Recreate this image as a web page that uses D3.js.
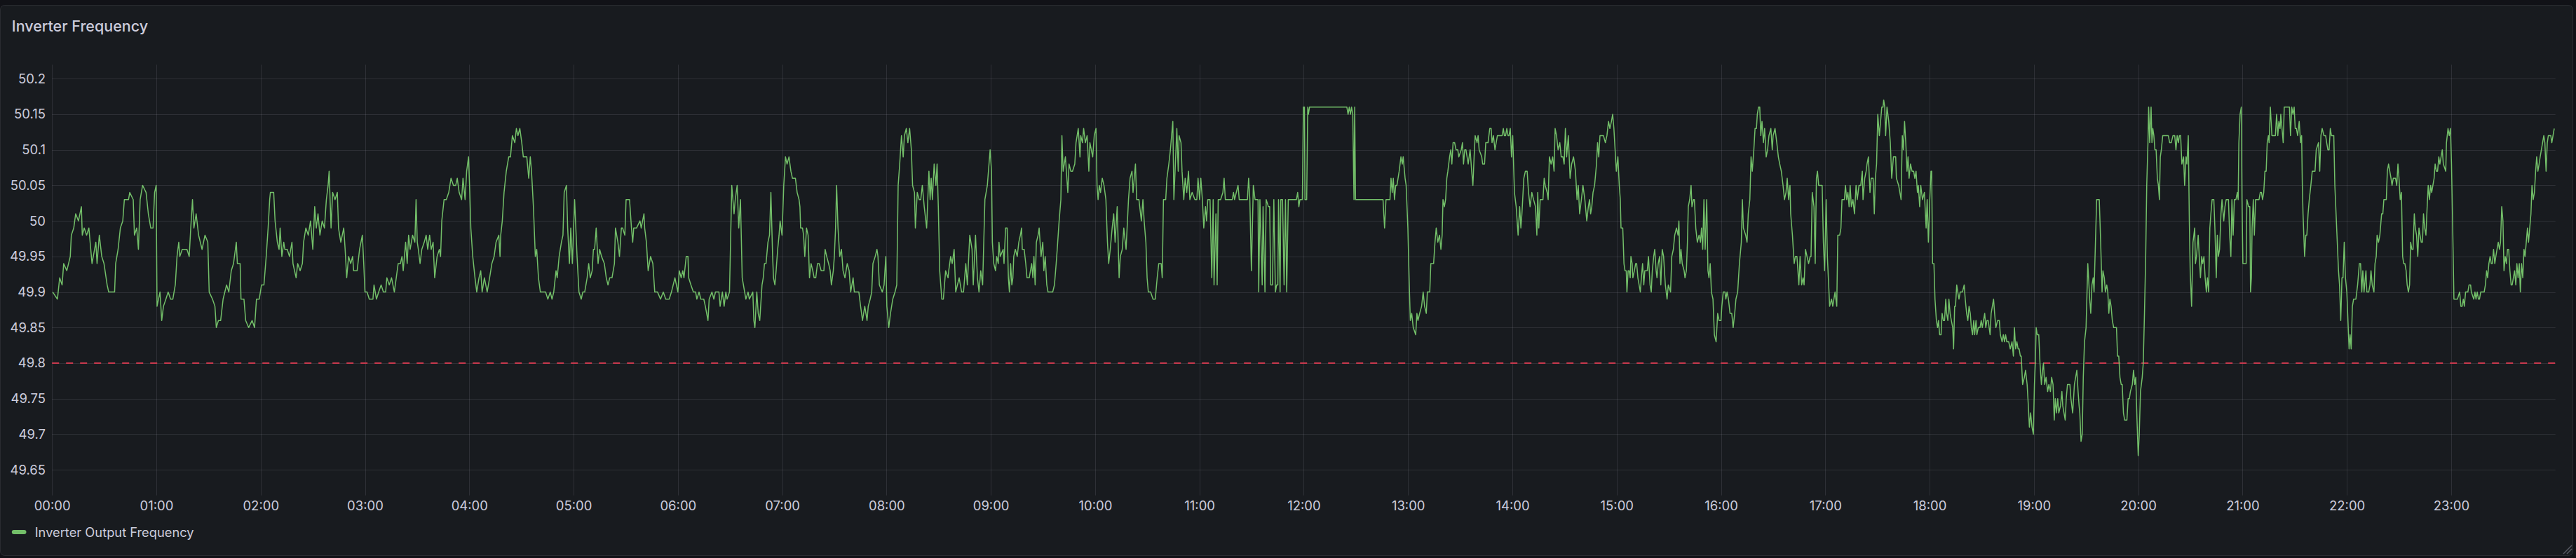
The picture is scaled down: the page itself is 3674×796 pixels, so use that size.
<!DOCTYPE html>
<html><head><meta charset="utf-8">
<script src="https://cdn.jsdelivr.net/npm/d3@7/dist/d3.min.js"></script>
<style>
html,body{margin:0;padding:0;background:#111217;overflow:hidden;}
svg{display:block;}
</style></head><body>
<svg id="chart" width="3674" height="796"></svg>
<script>
const panelTitle = "Inverter Frequency";
const seriesName = "Inverter Output Frequency";
const thresholdHz = 49.8;
const yTickValues = [49.65, 49.7, 49.75, 49.8, 49.85, 49.9, 49.95, 50, 50.05, 50.1, 50.15, 50.2];
const xTickHours = [0,1,2,3,4,5,6,7,8,9,10,11,12,13,14,15,16,17,18,19,20,21,22,23];
const xTickLabels = ["00:00","01:00","02:00","03:00","04:00","05:00","06:00","07:00","08:00","09:00","10:00","11:00","12:00","13:00","14:00","15:00","16:00","17:00","18:00","19:00","20:00","21:00","22:00","23:00"];
// [minute of day, Hz]
const samples = [
[0.4,49.90],[3.1,49.89],[4.4,49.92],[5.8,49.91],[6.7,49.94],[8.5,49.93],[10.5,49.95],[11.1,49.98],[12.5,49.99],[13.6,50.01],[15.2,50.00],[16.9,50.02],[17.4,49.98],[18.5,49.99],[19.9,49.98],[21.2,49.99],[23.0,49.94],[25.2,49.97],[25.9,49.94],[27.2,49.98],[28.6,49.95],[29.9,49.94],[31.7,49.91],[32.6,49.90],[34.6,49.90],[36.0,49.90],[36.6,49.94],[38.0,49.96],[39.3,49.99],[40.7,50.00],[41.6,50.03],[44.0,50.03],[44.7,50.04],[46.7,50.03],[47.4,49.98],[48.7,49.99],[49.7,49.96],[50.7,50.03],[52.1,50.05],[54.1,50.04],[55.4,50.01],[56.8,49.99],[58.1,49.99],[59.0,50.04],[59.9,50.05],
[60.4,49.88],[62.1,49.90],[63.1,49.86],[64.1,49.88],[65.5,49.89],[66.8,49.90],[68.2,49.89],[69.5,49.89],[70.9,49.91],[71.9,49.95],[72.9,49.97],[73.5,49.95],[74.9,49.96],[76.2,49.96],[77.6,49.96],[78.9,49.95],[79.8,49.99],[80.8,50.03],[81.6,49.99],[82.9,50.01],[84.3,49.98],[86.3,49.96],[88.0,49.98],[89.6,49.97],[90.4,49.90],[92.3,49.89],[93.7,49.88],[94.5,49.85],[95.7,49.86],[97.0,49.86],[98.4,49.89],[100.4,49.91],[101.7,49.90],[103.1,49.93],[104.4,49.94],[106.0,49.97],[106.6,49.94],[108.2,49.94],[108.7,49.89],[110.4,49.89],[111.4,49.86],[113.1,49.85],[115.1,49.86],[116.5,49.85],[117.6,49.89],[119.2,49.89],
[120.5,49.91],[121.9,49.91],[123.2,49.95],[124.3,49.99],[125.2,50.03],[125.6,50.04],[127.5,50.04],[128.3,50.00],[129.6,49.97],[130.6,49.96],[131.2,49.99],[132.2,49.95],[133.3,49.97],[133.9,49.96],[135.3,49.96],[136.6,49.95],[138.0,49.97],[138.6,49.94],[140.4,49.92],[141.3,49.94],[142.7,49.93],[144.0,49.94],[144.7,49.97],[146.0,49.99],[147.4,49.98],[148.7,50.00],[150.0,49.96],[151.1,50.02],[152.0,49.99],[153.0,50.01],[154.1,49.98],[155.4,50.00],[156.7,49.99],[157.8,50.03],[158.8,50.05],[159.4,50.07],[160.5,49.99],[161.4,50.04],[162.8,50.03],[164.1,50.04],[164.8,49.99],[166.1,49.97],[167.8,49.99],[168.6,49.96],[169.5,49.92],[170.6,49.95],[171.8,49.94],[172.9,49.95],[173.5,49.93],[175.5,49.93],[176.9,49.96],[178.5,49.98],[179.3,49.94],
[180.0,49.90],[181.2,49.90],[182.5,49.89],[184.6,49.89],[185.2,49.91],[186.6,49.89],[187.9,49.90],[189.3,49.91],[190.6,49.90],[191.9,49.90],[192.6,49.92],[194.0,49.91],[195.3,49.92],[196.9,49.90],[198.0,49.92],[199.1,49.94],[200.4,49.94],[201.3,49.95],[202.0,49.93],[203.4,49.97],[204.3,49.94],[205.1,49.98],[206.0,49.96],[207.4,49.98],[208.7,49.97],[209.4,50.03],[210.1,49.97],[210.7,49.96],[211.7,49.94],[212.7,49.96],[214.1,49.97],[215.2,49.98],[216.1,49.96],[217.2,49.98],[218.1,49.96],[219.2,49.97],[220.1,49.92],[221.5,49.95],[222.8,49.96],[223.5,49.95],[224.2,50.00],[225.5,50.03],[226.8,50.03],[228.2,50.04],[229.5,50.06],[230.9,50.05],[232.2,50.05],[233.1,50.06],[234.2,50.04],[235.6,50.03],[236.4,50.06],[237.6,50.03],[238.5,50.07],[239.6,50.09],
[240.3,50.04],[240.9,49.99],[242.0,49.95],[243.3,49.92],[244.3,49.90],[245.6,49.92],[246.6,49.93],[247.4,49.90],[248.7,49.92],[250.3,49.90],[251.7,49.92],[253.0,49.94],[254.3,49.95],[255.4,49.97],[257.0,49.98],[257.7,49.95],[258.1,49.98],[259.0,50.00],[260.0,50.04],[261.3,50.07],[262.7,50.09],[263.7,50.09],[264.8,50.12],[266.2,50.11],[267.1,50.13],[268.0,50.12],[269.1,50.13],[270.2,50.11],[271.1,50.09],[273.1,50.09],[274.2,50.06],[275.1,50.09],[275.8,50.07],[276.9,50.02],[278.0,49.95],[278.8,49.96],[279.8,49.92],[280.9,49.90],[281.9,49.90],[283.9,49.90],[285.2,49.89],[286.6,49.90],[287.6,49.89],[288.6,49.90],[289.9,49.93],[290.6,49.92],[291.7,49.95],[293.0,49.97],[293.9,49.98],[294.6,50.04],[295.9,50.05],[296.6,49.99],[297.6,49.94],[298.4,49.99],[299.3,49.94],
[300.6,50.03],[302.0,49.95],[303.1,49.90],[304.4,49.89],[305.3,49.90],[306.4,49.90],[307.8,49.92],[308.7,49.94],[309.6,49.92],[310.7,49.93],[311.4,49.96],[312.1,49.96],[313.0,49.99],[314.1,49.94],[315.0,49.96],[316.1,49.95],[317.7,49.94],[318.8,49.92],[319.8,49.91],[320.8,49.92],[322.1,49.92],[323.5,49.94],[324.1,49.99],[325.5,49.97],[326.4,49.95],[327.5,49.99],[328.2,49.99],[329.5,49.98],[330.2,50.03],[332.2,50.03],[333.3,49.99],[334.0,49.97],[334.6,49.99],[336.2,49.99],[338.2,50.00],[338.9,49.99],[340.5,50.01],[340.9,49.99],[341.9,49.97],[342.9,49.93],[344.3,49.95],[345.6,49.94],[346.7,49.90],[348.3,49.90],[350.0,49.89],[351.6,49.90],[353.0,49.89],[355.0,49.89],[356.3,49.90],[358.3,49.92],
[360.0,49.90],[360.8,49.93],[361.9,49.92],[362.8,49.93],[363.5,49.92],[364.8,49.95],[365.8,49.95],[366.2,49.92],[367.5,49.91],[368.9,49.90],[370.2,49.90],[370.9,49.89],[372.2,49.90],[373.2,49.89],[374.9,49.89],[375.8,49.88],[377.3,49.86],[378.0,49.89],[379.6,49.90],[380.7,49.89],[381.6,49.90],[383.6,49.90],[384.3,49.88],[385.6,49.90],[386.6,49.88],[387.6,49.90],[388.3,49.89],[389.7,49.90],[390.3,49.97],[391.0,50.05],[392.3,50.01],[393.0,50.03],[394.1,50.05],[395.0,49.99],[396.0,50.03],[397.0,49.92],[398.4,49.90],[399.1,49.89],[400.4,49.90],[401.1,49.89],[403.1,49.90],[403.7,49.86],[404.3,49.85],[405.4,49.90],[406.2,49.87],[407.1,49.86],[408.4,49.91],[409.1,49.92],[409.8,49.94],[410.7,49.94],[411.8,49.97],[412.7,49.98],[413.5,50.04],[414.5,49.95],[415.0,49.92],[415.8,49.91],[416.5,49.93],[417.4,49.96],[418.2,49.98],[418.8,50.00],[419.9,49.98],
[420.9,50.05],[421.9,50.09],[422.8,50.08],[423.9,50.09],[425.0,50.07],[425.9,50.06],[427.6,50.06],[428.6,50.04],[429.7,50.03],[430.2,50.02],[430.6,49.99],[431.7,49.99],[432.3,49.98],[433.0,49.95],[434.0,49.99],[434.9,49.98],[435.7,49.92],[436.6,49.94],[437.6,49.93],[438.4,49.92],[439.3,49.92],[440.3,49.94],[441.3,49.94],[442.4,49.93],[444.0,49.93],[444.7,49.96],[445.6,49.95],[446.7,49.94],[447.6,49.93],[448.3,49.91],[449.4,49.93],[450.0,49.95],[450.7,49.99],[451.3,50.05],[452.1,49.99],[453.1,49.95],[454.1,49.96],[455.0,49.93],[456.1,49.92],[457.4,49.94],[458.5,49.93],[459.4,49.90],[460.8,49.92],[461.5,49.90],[463.5,49.90],[464.1,49.90],[465.1,49.88],[466.2,49.86],[467.5,49.88],[468.8,49.86],[469.5,49.88],[470.6,49.89],[471.5,49.90],[472.2,49.94],[473.5,49.95],[474.5,49.96],[475.1,49.95],[475.9,49.91],[477.6,49.90],[478.6,49.91],[479.6,49.95],
[480.2,49.88],[481.3,49.85],[482.3,49.87],[483.6,49.89],[484.9,49.90],[485.9,49.91],[486.7,50.05],[487.6,50.08],[488.6,50.12],[489.6,50.09],[490.3,50.12],[491.4,50.13],[492.3,50.11],[493.3,50.13],[494.3,50.10],[495.0,50.05],[496.1,50.04],[496.6,49.99],[497.7,50.04],[498.8,50.03],[499.7,50.03],[500.6,50.05],[501.7,50.02],[503.1,49.99],[504.4,50.07],[505.1,50.03],[505.7,50.06],[506.4,50.03],[507.4,50.08],[508.4,50.05],[509.1,50.08],[509.8,50.02],[510.6,49.93],[511.8,49.89],[512.7,49.89],[514.0,49.93],[515.4,49.92],[515.8,49.93],[516.9,49.95],[517.8,49.94],[518.9,49.96],[519.8,49.90],[520.8,49.91],[521.8,49.92],[523.2,49.90],[524.3,49.90],[525.6,49.94],[526.5,49.91],[527.9,49.98],[529.2,49.96],[529.9,49.91],[531.2,49.98],[532.3,49.92],[533.2,49.90],[534.2,49.93],[535.3,49.91],[536.6,50.03],[538.0,50.05],[539.6,50.10],
[540.4,50.07],[540.9,49.97],[541.7,49.94],[542.7,49.93],[543.4,49.95],[544.3,49.94],[544.7,49.97],[545.4,49.95],[547.1,49.96],[547.6,49.94],[548.5,49.99],[549.4,49.99],[550.1,49.92],[550.7,49.90],[551.4,49.94],[552.1,49.91],[552.7,49.92],[553.2,49.95],[554.1,49.96],[555.2,49.95],[556.1,49.97],[557.0,49.98],[557.7,49.99],[558.1,49.96],[559.2,49.96],[560.1,49.94],[560.8,49.92],[562.1,49.92],[563.5,49.94],[564.2,49.92],[564.8,49.95],[565.5,49.91],[566.2,49.97],[567.2,49.98],[567.8,49.99],[568.9,49.95],[569.9,49.97],[570.5,49.93],[571.3,49.95],[572.2,49.91],[572.9,49.90],[574.2,49.90],[575.6,49.90],[576.6,49.91],[577.6,49.94],[578.2,49.96],[579.3,50.00],[580.3,50.03],[580.9,50.12],[581.6,50.07],[582.9,50.09],[584.3,50.04],[585.0,50.08],[586.0,50.07],[587.0,50.07],[588.3,50.08],[589.0,50.11],[590.3,50.13],[591.3,50.09],[591.7,50.12],[592.7,50.11],[593.4,50.13],[594.4,50.11],[595.4,50.12],[596.4,50.07],[597.0,50.11],[598.6,50.09],[599.5,50.12],
[600.5,50.13],[601.1,50.05],[601.7,50.03],[602.4,50.05],[603.1,50.04],[604.1,50.06],[605.1,50.05],[606.2,50.03],[607.1,49.97],[607.8,49.94],[608.7,49.96],[609.8,49.99],[610.7,50.01],[611.5,49.97],[612.7,50.02],[613.8,49.92],[614.5,49.95],[615.6,49.96],[616.5,49.99],[617.8,49.96],[619.2,50.03],[620.1,50.06],[621.2,50.07],[621.8,50.04],[623.2,50.08],[623.9,50.03],[625.2,50.03],[626.6,50.00],[627.5,50.03],[628.2,50.00],[629.2,49.97],[629.9,49.92],[630.6,49.90],[631.9,49.90],[633.3,49.89],[634.6,49.89],[635.7,49.92],[636.6,49.94],[638.0,49.94],[638.6,49.92],[639.3,50.03],[640.6,50.03],[641.3,50.06],[642.4,50.08],[643.3,50.10],[644.7,50.14],[645.3,50.03],[646.0,50.07],[647.0,50.13],[647.8,50.07],[648.3,50.12],[649.4,50.11],[650.0,50.07],[651.0,50.03],[651.8,50.06],[652.7,50.04],[653.7,50.07],[654.5,50.03],[655.8,50.04],[657.4,50.03],[658.5,50.03],[659.2,50.06],
[660.1,50.03],[660.8,50.06],[661.7,50.03],[662.5,49.99],[663.5,50.02],[664.1,50.00],[664.8,50.03],[666.1,50.03],[667.1,49.92],[667.9,50.03],[668.4,49.91],[669.5,50.01],[670.2,49.91],[670.8,50.03],[672.2,50.03],[673.5,50.04],[674.2,50.06],[674.9,50.03],[678.9,50.03],[679.6,50.04],[680.2,50.03],[682.2,50.05],[682.9,50.03],[687.6,50.03],[688.3,50.06],[689.0,50.03],[689.9,49.93],[691.0,50.05],[692.0,50.03],[693.7,50.03],[694.1,49.90],[694.8,50.03],[696.1,49.91],[696.6,50.02],[697.7,49.90],[698.4,50.03],[699.7,50.02],[700.4,50.02],[701.0,49.91],[702.0,49.91],[702.8,50.03],[703.7,49.90],[704.4,49.91],[705.1,49.91],[705.5,50.03],[706.4,49.90],[706.8,50.03],[707.8,50.03],[708.7,49.91],[709.5,50.03],[710.2,49.90],[711.1,50.03],[715.8,50.03],[716.5,50.04],[717.2,50.02],[717.8,50.03],[719.2,50.03],[719.8,50.16],
[720.4,50.16],[720.7,50.03],[721.7,50.03],[722.3,50.16],[722.7,50.15],[723.3,50.16],[744.8,50.16],[745.5,50.15],[746.2,50.16],[746.9,50.15],[747.5,50.16],[748.2,50.15],[748.9,50.03],[749.3,50.16],[749.8,50.03],[765.6,50.03],[766.5,49.99],[767.3,50.03],[769.6,50.03],[770.2,50.06],[770.9,50.04],[771.5,50.06],[772.2,50.03],[772.9,50.05],[773.6,50.05],[774.9,50.07],[775.9,50.09],[776.7,50.08],[777.2,50.09],[778.3,50.06],[778.9,50.05],[779.9,49.99],
[780.6,49.92],[781.3,49.86],[782.1,49.87],[783.0,49.85],[784.4,49.84],[785.1,49.87],[785.7,49.86],[786.7,49.87],[787.8,49.88],[788.7,49.90],[789.5,49.88],[790.5,49.87],[791.1,49.90],[792.5,49.90],[793.1,49.94],[794.7,49.94],[795.5,49.97],[796.2,49.99],[797.1,49.97],[798.1,49.98],[798.9,49.96],[799.6,49.98],[800.1,50.03],[800.9,50.02],[801.6,50.03],[802.3,50.06],[802.9,50.07],[803.9,50.09],[804.6,50.10],[805.2,50.08],[805.9,50.11],[806.8,50.11],[807.6,50.10],[808.6,50.10],[809.2,50.09],[810.6,50.10],[811.3,50.11],[811.9,50.08],[812.6,50.10],[813.3,50.10],[814.6,50.08],[815.7,50.10],[816.6,50.07],[817.3,50.05],[818.0,50.09],[818.6,50.12],[819.7,50.11],[820.3,50.12],[820.9,50.10],[822.4,50.09],[822.9,50.08],[824.0,50.08],[824.7,50.11],[826.0,50.11],[827.0,50.13],[827.8,50.13],[828.3,50.11],[829.1,50.12],[830.0,50.10],[830.7,50.11],[831.4,50.12],[834.1,50.12],[834.8,50.13],[835.4,50.12],[836.1,50.12],[836.8,50.13],[837.5,50.12],[838.1,50.12],[838.8,50.13],[839.5,50.09],
[840.2,50.12],[841.2,50.04],[842.2,50.02],[843.3,49.98],[844.2,50.02],[844.9,49.99],[845.5,50.01],[846.6,50.06],[847.5,50.07],[848.5,50.07],[849.3,50.04],[850.2,50.02],[851.2,50.04],[852.2,50.03],[853.3,50.02],[854.1,49.98],[854.6,50.04],[855.2,49.99],[856.0,50.03],[857.6,50.03],[858.3,50.06],[858.9,50.05],[860.0,50.04],[860.6,50.03],[861.3,50.09],[862.3,50.08],[863.2,50.09],[864.0,50.07],[864.6,50.13],[865.4,50.12],[866.3,50.10],[867.3,50.11],[868.1,50.09],[869.1,50.09],[869.8,50.08],[870.5,50.13],[871.2,50.09],[872.2,50.12],[873.2,50.06],[874.1,50.08],[875.2,50.09],[876.3,50.07],[877.2,50.03],[877.9,50.05],[878.7,50.01],[879.7,50.03],[880.6,50.05],[881.7,50.03],[882.8,50.00],[883.7,50.02],[884.4,50.03],[885.0,50.01],[885.7,50.02],[886.4,50.04],[887.3,50.05],[888.4,50.08],[889.0,50.11],[889.7,50.09],[890.4,50.12],[892.4,50.12],[893.5,50.11],[894.4,50.12],[895.3,50.14],[896.1,50.13],[897.0,50.14],[897.7,50.15],[898.4,50.13],[899.1,50.10],
[899.8,50.07],[900.7,50.09],[901.5,50.05],[902.1,50.03],[902.5,49.99],[903.5,49.99],[904.2,49.94],[904.8,49.93],[905.5,49.93],[905.9,49.90],[906.6,49.93],[907.2,49.93],[907.8,49.92],[908.2,49.95],[908.9,49.94],[909.3,49.92],[910.2,49.93],[910.9,49.94],[911.5,49.94],[912.2,49.92],[912.9,49.91],[913.6,49.90],[914.2,49.92],[914.9,49.94],[915.6,49.91],[916.2,49.93],[917.6,49.93],[918.3,49.95],[919.2,49.91],[919.9,49.90],[920.5,49.93],[921.3,49.95],[921.9,49.96],[922.7,49.93],[923.2,49.92],[923.9,49.94],[924.7,49.95],[925.4,49.91],[926.2,49.96],[927.0,49.95],[928.0,49.91],[929.0,49.89],[929.7,49.91],[931.0,49.90],[931.7,49.95],[932.6,49.96],[933.4,49.98],[934.4,49.99],[935.3,49.98],[935.8,50.00],[936.4,49.94],[937.0,49.96],[937.7,49.94],[938.8,49.93],[939.3,49.92],[940.1,49.93],[940.7,49.97],[941.2,50.02],[942.0,50.03],[942.8,50.05],[943.3,50.02],[944.2,50.03],[944.7,50.03],[945.5,49.99],[946.4,49.97],[947.4,49.98],[948.2,49.97],[948.8,49.99],[949.5,49.96],[950.2,50.03],[950.9,49.96],[951.8,50.03],[952.5,49.93],[953.1,49.92],[953.8,49.94],[954.5,49.90],[955.4,49.89],[956.2,49.84],[957.2,49.83],[958.1,49.87],[958.9,49.86],
[960.0,49.86],[960.5,49.88],[961.3,49.90],[962.3,49.90],[962.8,49.89],[963.5,49.90],[964.3,49.89],[965.2,49.87],[966.2,49.87],[967.0,49.85],[967.9,49.87],[968.6,49.89],[969.6,49.90],[970.6,49.94],[971.7,49.97],[972.3,50.03],[972.9,49.99],[974.2,49.98],[975.0,49.97],[975.7,50.01],[976.6,50.03],[977.3,50.09],[978.0,50.07],[978.9,50.10],[979.6,50.13],[980.4,50.13],[980.9,50.15],[981.6,50.16],[982.3,50.16],[982.9,50.12],[983.6,50.14],[984.4,50.11],[985.1,50.13],[986.0,50.09],[986.8,50.10],[987.6,50.12],[988.7,50.13],[989.5,50.10],[990.0,50.12],[991.1,50.13],[992.1,50.11],[993.0,50.09],[993.8,50.08],[994.7,50.07],[995.7,50.05],[996.5,50.03],[997.4,50.04],[998.1,50.06],[998.9,50.03],[999.7,50.05],[1000.1,50.01],[1001.1,49.98],[1002.1,49.94],[1002.8,49.95],[1003.7,49.95],[1004.8,49.91],[1005.5,49.95],[1006.4,49.91],[1007.2,49.92],[1007.8,49.91],[1008.6,49.96],[1009.5,49.95],[1010.4,49.94],[1011.3,49.95],[1011.8,49.95],[1012.5,50.04],[1013.5,50.02],[1014.2,49.94],[1014.9,50.06],[1015.5,50.07],[1016.2,50.05],[1016.9,50.05],[1018.2,50.05],[1018.9,49.97],[1019.6,49.93],
[1020.5,50.03],[1021.2,49.95],[1022.5,49.88],[1023.6,49.89],[1024.3,49.88],[1025.6,49.90],[1026.6,49.88],[1027.2,49.98],[1028.3,49.98],[1029.0,49.99],[1029.6,50.03],[1031.0,50.03],[1031.6,50.05],[1032.3,50.03],[1033.0,50.04],[1033.7,50.02],[1034.3,50.05],[1035.0,50.02],[1035.9,50.03],[1036.8,50.01],[1037.7,50.05],[1038.4,50.03],[1039.4,50.05],[1040.4,50.05],[1041.3,50.07],[1041.7,50.03],[1042.7,50.06],[1043.5,50.07],[1044.0,50.08],[1044.8,50.09],[1045.7,50.04],[1046.4,50.06],[1047.5,50.06],[1048.2,50.01],[1048.8,50.06],[1049.5,50.08],[1050.2,50.15],[1051.1,50.12],[1051.8,50.14],[1052.5,50.16],[1053.2,50.16],[1053.6,50.17],[1054.2,50.16],[1054.7,50.12],[1055.5,50.16],[1056.5,50.14],[1057.4,50.11],[1058.2,50.06],[1059.2,50.09],[1060.5,50.09],[1060.9,50.06],[1062.2,50.05],[1063.6,50.03],[1064.3,50.12],[1064.9,50.10],[1065.6,50.14],[1066.3,50.11],[1067.0,50.07],[1067.6,50.09],[1068.2,50.06],[1069.0,50.08],[1069.9,50.07],[1070.8,50.07],[1071.5,50.06],[1072.2,50.07],[1073.0,50.04],[1073.5,50.05],[1074.3,50.02],[1074.9,50.05],[1075.9,50.03],[1077.0,50.04],[1078.0,49.99],[1078.6,50.03],[1079.3,49.97],
[1080.1,50.03],[1080.8,50.07],[1081.2,50.07],[1081.7,49.94],[1082.5,49.94],[1083.1,49.89],[1083.9,49.86],[1084.6,49.85],[1085.1,49.86],[1085.8,49.84],[1086.6,49.84],[1087.2,49.87],[1087.9,49.86],[1088.6,49.86],[1089.3,49.89],[1089.8,49.87],[1090.5,49.86],[1091.1,49.89],[1091.8,49.87],[1092.5,49.86],[1093.3,49.85],[1093.8,49.82],[1094.4,49.88],[1094.9,49.88],[1095.6,49.91],[1096.2,49.90],[1096.9,49.89],[1097.6,49.90],[1098.9,49.90],[1099.9,49.91],[1100.5,49.89],[1101.3,49.87],[1102.0,49.86],[1102.7,49.88],[1103.4,49.87],[1104.0,49.85],[1104.7,49.84],[1105.4,49.86],[1105.9,49.84],[1106.7,49.86],[1107.2,49.84],[1108.0,49.85],[1109.0,49.85],[1109.7,49.86],[1110.3,49.85],[1111.0,49.86],[1111.7,49.87],[1112.3,49.85],[1113.0,49.86],[1113.7,49.86],[1114.8,49.84],[1115.4,49.87],[1116.1,49.88],[1116.8,49.89],[1117.4,49.87],[1118.1,49.85],[1119.1,49.86],[1120.1,49.86],[1120.7,49.84],[1121.7,49.83],[1122.4,49.84],[1123.1,49.83],[1123.7,49.84],[1124.4,49.83],[1125.5,49.83],[1126.4,49.82],[1127.4,49.83],[1128.2,49.81],[1128.8,49.85],[1129.5,49.82],[1130.2,49.83],[1130.9,49.82],[1131.5,49.82],[1132.2,49.81],[1132.7,49.81],[1133.5,49.77],[1134.5,49.78],[1135.2,49.79],[1136.1,49.77],[1136.8,49.74],[1137.4,49.71],[1138.1,49.73],[1138.9,49.71],[1139.7,49.70],
[1140.3,49.77],[1140.8,49.80],[1141.3,49.85],[1141.9,49.84],[1142.8,49.84],[1143.5,49.80],[1144.3,49.77],[1145.0,49.79],[1145.5,49.80],[1146.2,49.77],[1147.0,49.78],[1147.9,49.76],[1148.6,49.77],[1149.5,49.76],[1150.2,49.78],[1151.0,49.77],[1151.7,49.72],[1152.3,49.75],[1153.0,49.73],[1153.7,49.75],[1154.3,49.73],[1155.3,49.74],[1156.1,49.76],[1156.6,49.74],[1157.3,49.73],[1158.0,49.72],[1158.6,49.75],[1159.3,49.77],[1160.7,49.77],[1161.3,49.75],[1162.3,49.73],[1163.3,49.77],[1164.0,49.78],[1164.7,49.79],[1165.4,49.76],[1166.0,49.74],[1166.4,49.73],[1167.1,49.69],[1167.8,49.70],[1168.4,49.78],[1169.1,49.83],[1170.0,49.85],[1171.0,49.94],[1172.1,49.89],[1172.7,49.87],[1173.4,49.91],[1174.1,49.92],[1174.6,49.90],[1175.4,49.97],[1176.1,50.03],[1177.0,50.03],[1177.6,50.03],[1178.4,49.97],[1179.2,49.90],[1179.7,49.93],[1180.5,49.92],[1181.1,49.90],[1181.9,49.91],[1182.5,49.90],[1183.1,49.87],[1183.7,49.89],[1184.4,49.88],[1185.1,49.86],[1185.9,49.85],[1186.8,49.85],[1187.5,49.85],[1188.1,49.81],[1188.8,49.81],[1189.5,49.78],[1190.2,49.77],[1190.8,49.77],[1191.5,49.73],[1192.2,49.72],[1192.9,49.72],[1193.5,49.72],[1194.2,49.75],[1194.9,49.75],[1195.5,49.76],[1196.6,49.77],[1197.3,49.79],[1198.0,49.77],[1198.6,49.78],[1199.3,49.72],
[1200.0,49.67],[1200.6,49.70],[1201.3,49.76],[1202.3,49.78],[1202.9,49.80],[1203.6,49.87],[1204.3,49.95],[1204.9,50.05],[1205.6,50.11],[1206.0,50.16],[1206.6,50.11],[1207.4,50.16],[1207.9,50.11],[1208.4,50.13],[1209.0,50.12],[1209.6,50.10],[1210.3,50.10],[1211.0,50.06],[1211.6,50.05],[1212.2,50.03],[1212.7,50.09],[1213.3,50.10],[1214.1,50.12],[1215.0,50.12],[1216.3,50.12],[1217.3,50.12],[1218.1,50.11],[1219.0,50.11],[1220.0,50.12],[1221.0,50.12],[1221.7,50.10],[1222.4,50.12],[1223.1,50.11],[1223.7,50.12],[1224.4,50.12],[1225.1,50.08],[1226.1,50.09],[1226.7,50.05],[1227.5,50.09],[1228.0,50.08],[1228.8,50.12],[1229.4,50.00],[1229.9,49.93],[1230.7,49.88],[1231.5,49.97],[1232.5,49.99],[1232.9,49.94],[1233.5,49.95],[1234.5,49.98],[1235.1,49.95],[1235.8,49.92],[1236.5,49.95],[1237.1,49.94],[1237.8,49.95],[1238.5,49.92],[1239.2,49.90],[1239.8,49.92],[1240.5,49.90],[1241.2,49.99],[1241.8,50.01],[1242.5,50.03],[1243.5,50.03],[1244.1,49.99],[1244.9,49.92],[1245.5,49.98],[1246.1,49.95],[1246.8,49.96],[1247.6,50.01],[1248.2,50.03],[1249.2,50.00],[1249.9,50.02],[1250.6,50.03],[1251.9,50.03],[1252.6,49.98],[1253.3,49.95],[1253.9,50.03],[1254.6,49.98],[1255.3,50.03],[1256.2,50.03],[1257.0,50.04],[1257.5,50.03],[1257.9,50.11],[1258.6,50.15],[1259.3,50.16],[1259.7,50.03],
[1260.2,49.94],[1262.1,49.94],[1262.5,50.03],[1263.5,50.02],[1264.2,50.02],[1264.6,49.90],[1265.1,49.92],[1265.5,49.99],[1266.2,50.03],[1266.8,49.98],[1267.5,50.03],[1268.9,50.03],[1269.5,50.03],[1270.2,50.04],[1270.9,50.04],[1271.5,50.03],[1272.2,50.04],[1272.9,50.07],[1273.6,50.07],[1274.2,50.11],[1274.9,50.12],[1275.3,50.11],[1276.0,50.16],[1276.9,50.12],[1277.6,50.12],[1278.3,50.12],[1278.9,50.12],[1279.6,50.15],[1280.3,50.12],[1280.9,50.14],[1281.6,50.13],[1282.0,50.15],[1282.7,50.13],[1283.4,50.11],[1284.0,50.16],[1285.0,50.16],[1286.3,50.16],[1287.0,50.16],[1287.6,50.12],[1288.3,50.16],[1289.0,50.15],[1289.7,50.16],[1290.3,50.13],[1291.0,50.13],[1291.7,50.12],[1292.6,50.14],[1293.4,50.11],[1294.0,50.12],[1294.4,50.05],[1294.8,50.01],[1295.7,49.95],[1296.4,49.98],[1297.0,49.98],[1297.7,50.01],[1298.4,50.03],[1299.3,50.05],[1300.1,50.07],[1301.1,50.07],[1301.7,50.07],[1302.4,50.10],[1303.7,50.11],[1304.4,50.07],[1305.1,50.12],[1305.8,50.13],[1306.8,50.12],[1307.8,50.12],[1308.4,50.11],[1309.1,50.10],[1309.8,50.10],[1310.5,50.13],[1311.1,50.12],[1311.8,50.12],[1312.5,50.12],[1313.1,50.05],[1313.8,50.01],[1314.5,49.97],[1315.2,49.93],[1315.8,49.91],[1316.5,49.86],[1317.2,49.92],[1317.8,49.92],[1318.5,49.97],[1319.2,49.92],
[1320.0,49.90],[1320.8,49.85],[1321.3,49.82],[1321.9,49.84],[1322.5,49.82],[1323.2,49.88],[1323.9,49.89],[1325.2,49.89],[1326.2,49.91],[1327.2,49.94],[1327.9,49.94],[1328.6,49.90],[1329.2,49.93],[1329.9,49.90],[1331.0,49.93],[1331.5,49.90],[1332.6,49.90],[1333.3,49.91],[1333.9,49.93],[1334.6,49.91],[1335.6,49.90],[1336.2,49.94],[1336.9,49.95],[1337.4,49.98],[1338.2,49.97],[1339.0,49.98],[1340.0,50.01],[1340.7,50.01],[1341.3,50.03],[1342.0,50.03],[1342.7,50.03],[1343.3,50.07],[1344.0,50.08],[1344.7,50.07],[1345.4,50.06],[1346.0,50.05],[1346.7,50.06],[1347.4,50.06],[1348.0,50.06],[1348.7,50.05],[1349.4,50.08],[1350.0,50.06],[1350.7,50.03],[1351.4,50.04],[1352.1,49.95],[1352.7,49.94],[1353.4,49.94],[1354.1,49.93],[1354.7,49.91],[1355.4,49.90],[1356.1,49.91],[1356.7,49.97],[1357.4,49.96],[1358.1,49.96],[1358.8,50.01],[1359.4,49.99],[1360.1,49.98],[1360.8,49.95],[1361.5,49.99],[1362.1,49.98],[1362.8,49.97],[1363.5,49.97],[1364.1,50.01],[1364.8,49.99],[1365.5,49.98],[1366.2,50.02],[1366.8,50.05],[1367.5,50.03],[1368.2,50.05],[1368.8,50.04],[1369.5,50.05],[1370.2,50.06],[1370.8,50.08],[1371.5,50.07],[1372.2,50.07],[1372.9,50.09],[1373.5,50.08],[1374.2,50.09],[1374.9,50.10],[1375.5,50.08],[1376.9,50.07],[1377.3,50.11],[1378.2,50.13],[1378.9,50.12],[1379.6,50.13],
[1380.2,50.08],[1380.9,49.99],[1381.6,49.89],[1382.3,49.89],[1383.6,49.89],[1384.9,49.90],[1385.6,49.88],[1386.3,49.88],[1387.0,49.89],[1387.6,49.88],[1388.3,49.90],[1389.6,49.90],[1390.3,49.91],[1391.2,49.91],[1391.6,49.90],[1393.0,49.89],[1393.7,49.90],[1394.3,49.89],[1395.0,49.90],[1395.7,49.89],[1396.3,49.89],[1397.0,49.90],[1397.7,49.90],[1399.0,49.90],[1399.7,49.91],[1400.4,49.93],[1401.0,49.92],[1401.7,49.94],[1402.4,49.95],[1403.1,49.94],[1403.7,49.94],[1404.4,49.96],[1405.1,49.94],[1405.7,49.95],[1406.4,49.96],[1407.1,49.97],[1407.8,49.96],[1408.4,49.97],[1409.1,50.02],[1409.8,50.00],[1410.4,49.93],[1411.1,49.95],[1411.8,49.94],[1412.4,49.96],[1413.1,49.96],[1413.8,49.93],[1414.5,49.91],[1415.1,49.91],[1415.8,49.92],[1416.5,49.93],[1417.2,49.91],[1417.8,49.94],[1418.5,49.92],[1419.2,49.94],[1419.8,49.90],[1420.5,49.94],[1421.2,49.92],[1421.9,49.96],[1422.5,49.95],[1423.2,49.97],[1423.9,49.99],[1424.5,49.97],[1425.2,49.99],[1425.9,50.01],[1426.5,50.05],[1427.2,50.03],[1427.9,50.04],[1428.6,50.07],[1429.2,50.09],[1429.9,50.07],[1430.6,50.08],[1431.2,50.09],[1431.9,50.10],[1432.6,50.11],[1433.3,50.12],[1433.9,50.11],[1434.6,50.07],[1435.3,50.11],[1435.9,50.12],[1436.6,50.12],[1437.3,50.12],[1437.9,50.11],[1438.6,50.12],[1439.3,50.13]
];

const W = 3674, H = 796;
const plot = {left: 74.2, right: 3644.7, top: 92.3, bottom: 706.7};
const textColor = "rgb(204,204,220)";
const gridColor = "rgba(204,204,220,0.12)";
const lineColor = "#73BF69";
const font = "Inter, 'Noto Sans', sans-serif";

const svg = d3.select("#chart");

// page + panel
svg.append("rect").attr("x",0).attr("y",0).attr("width",W).attr("height",H).attr("fill","#111217");
svg.append("rect").attr("x",0.5).attr("y",7.5).attr("width",3669).attr("height",785)
  .attr("rx",6).attr("fill","#181b1f").attr("stroke","rgba(204,204,220,0.12)").attr("stroke-width",1);

svg.append("text").attr("x",16.8).attr("y",45).attr("fill",textColor)
  .style("font-family",font).style("font-size","21.5px").style("font-weight",500)
  .text(panelTitle);

const x = d3.scaleLinear().domain([0,1440]).range([plot.left, plot.right]);
const y = d3.scaleLinear().domain([49.614, 50.2197]).range([plot.bottom, plot.top]);

// horizontal grid
svg.append("g").selectAll("line").data(yTickValues).join("line")
  .attr("x1",plot.left).attr("x2",plot.right)
  .attr("y1",d=>Math.round(y(d))+0.5).attr("y2",d=>Math.round(y(d))+0.5)
  .attr("stroke",gridColor).attr("stroke-width",1);
// vertical grid
svg.append("g").selectAll("line").data(xTickHours).join("line")
  .attr("x1",d=>Math.round(x(d*60))+0.5).attr("x2",d=>Math.round(x(d*60))+0.5)
  .attr("y1",plot.top).attr("y2",plot.bottom)
  .attr("stroke",gridColor).attr("stroke-width",1);

// y labels
const yAxis = d3.axisLeft(y).tickValues(yTickValues).tickSize(0).tickPadding(0)
  .tickFormat(d=>String(+d.toFixed(2)));
const gy = svg.append("g").attr("transform",`translate(65,0)`).call(yAxis);
gy.select(".domain").remove();
gy.selectAll("text").attr("fill",textColor).style("font-family",font).style("font-size","18.5px");

// x labels
const xAxis = d3.axisBottom(x).tickValues(xTickHours.map(h=>h*60)).tickSize(0).tickPadding(0)
  .tickFormat((d,i)=>xTickLabels[i]);
const gx = svg.append("g").attr("transform",`translate(0,715)`).call(xAxis);
gx.select(".domain").remove();
gx.selectAll("text").attr("fill",textColor).attr("dy","0.71em").style("font-family",font).style("font-size","18.5px");

// threshold
svg.append("line").attr("x1",plot.left).attr("x2",plot.right)
  .attr("y1",y(thresholdHz)).attr("y2",y(thresholdHz))
  .attr("stroke","#c8394d").attr("stroke-width",2).attr("stroke-dasharray","10,10");

// series
const line = d3.line().x(d=>x(d[0])).y(d=>y(d[1]));
svg.append("path").datum(samples).attr("d",line).attr("fill","none")
  .attr("stroke",lineColor).attr("stroke-width",1.5).attr("stroke-linejoin","round");

// legend
svg.append("rect").attr("x",16.8).attr("y",756).attr("width",20.7).attr("height",6).attr("rx",3).attr("fill",lineColor);
svg.append("text").attr("x",49.7).attr("y",765.5).attr("fill",textColor)
  .style("font-family",font).style("font-size","18.3px").text(seriesName);

// resize handle
svg.append("path").attr("d","M3656,790 L3668,778 M3661,790 L3668,783")
  .attr("stroke","rgba(204,204,220,0.35)").attr("stroke-width",1.5).attr("fill","none");
</script>
</body></html>
